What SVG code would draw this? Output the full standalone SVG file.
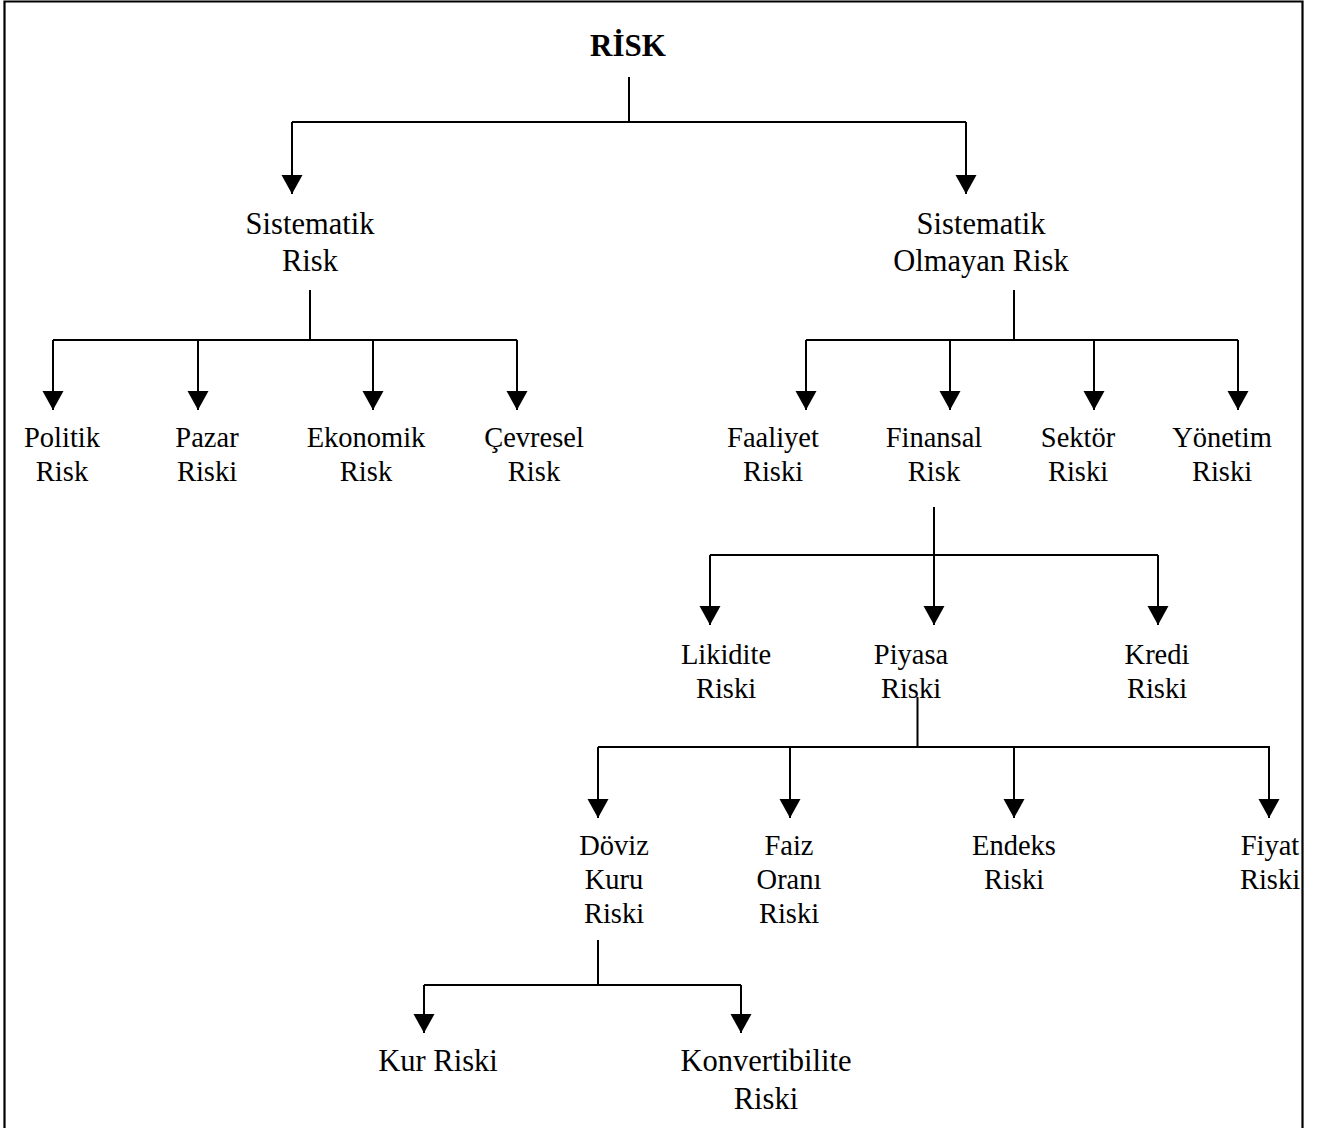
<svg xmlns="http://www.w3.org/2000/svg" width="1322" height="1128" viewBox="0 0 1322 1128">
  <style>
    text { font-family: "Liberation Serif", "Times New Roman", serif; fill: #000; text-anchor: middle; }
    .root { font-size: 31px; font-weight: bold; }
    .big { font-size: 30.5px; }
    .lbl { font-size: 28.5px; }
    .wire { fill: none; stroke: #000; stroke-width: 2; }
    .drop { fill: none; stroke: #000; stroke-width: 2; marker-end: url(#head); }
    .frame { fill: none; stroke: #000; stroke-width: 2.2; }
  </style>
  <defs>
    <!-- filled triangular arrowhead, tip at the end of the line -->
    <marker id="head" markerUnits="userSpaceOnUse" markerWidth="20" markerHeight="22" viewBox="0 0 20 22" refX="19" refY="11" orient="auto">
      <path d="M0,0.5 L19,11 L0,21.5 Z" fill="#000"/>
    </marker>
  </defs>
  <rect width="1322" height="1128" fill="#fff"/>
  <!-- outer frame: top, left and right sides -->
  <path class="frame" d="M4.5,1128 V1.5 H1302.5 V1128"/>

  <g id="connectors">
    <!-- RİSK -->
    <path class="wire" d="M629,77 V122 M292,122 H966"/>
    <path class="drop" d="M292,122 V194"/>
    <path class="drop" d="M966,122 V194"/>
    <!-- Sistematik Risk -->
    <path class="wire" d="M310,290 V340 M53,340 H517"/>
    <path class="drop" d="M53,340 V410"/>
    <path class="drop" d="M198,340 V410"/>
    <path class="drop" d="M373,340 V410"/>
    <path class="drop" d="M517,340 V410"/>
    <!-- Sistematik Olmayan Risk -->
    <path class="wire" d="M1014,290 V340 M806,340 H1238"/>
    <path class="drop" d="M806,340 V410"/>
    <path class="drop" d="M950,340 V410"/>
    <path class="drop" d="M1094,340 V410"/>
    <path class="drop" d="M1238,340 V410"/>
    <!-- Finansal Risk -->
    <path class="wire" d="M710,555 H1158"/>
    <path class="drop" d="M934,507 V625"/>
    <path class="drop" d="M710,555 V625"/>
    <path class="drop" d="M1158,555 V625"/>
    <!-- Piyasa Riski -->
    <path class="wire" d="M917.5,697 V747 M598,747 H1270"/>
    <path class="drop" d="M598,747 V818"/>
    <path class="drop" d="M790,747 V818"/>
    <path class="drop" d="M1014,747 V818"/>
    <path class="drop" d="M1269,747 V818"/>
    <!-- Döviz Kuru Riski -->
    <path class="wire" d="M598,940 V985 M424,985 H741"/>
    <path class="drop" d="M424,985 V1033"/>
    <path class="drop" d="M741,985 V1033"/>
  </g>

  <g id="risk"><text class="root" x="628" y="56">RİSK</text></g>

  <g id="sistematik-risk"><text class="big" x="310" y="234">Sistematik</text><text class="big" x="310" y="271">Risk</text></g>
  <g id="sistematik-olmayan-risk"><text class="big" x="981" y="234">Sistematik</text><text class="big" x="981" y="271">Olmayan Risk</text></g>

  <g id="politik-risk"><text class="lbl" x="62" y="447">Politik</text><text class="lbl" x="62" y="481">Risk</text></g>
  <g id="pazar-riski"><text class="lbl" x="207" y="447">Pazar</text><text class="lbl" x="207" y="481">Riski</text></g>
  <g id="ekonomik-risk"><text class="lbl" x="366" y="447">Ekonomik</text><text class="lbl" x="366" y="481">Risk</text></g>
  <g id="cevresel-risk"><text class="lbl" x="534" y="447">Çevresel</text><text class="lbl" x="534" y="481">Risk</text></g>

  <g id="faaliyet-riski"><text class="lbl" x="773" y="447">Faaliyet</text><text class="lbl" x="773" y="481">Riski</text></g>
  <g id="finansal-risk"><text class="lbl" x="934" y="447">Finansal</text><text class="lbl" x="934" y="481">Risk</text></g>
  <g id="sektor-riski"><text class="lbl" x="1078" y="447">Sektör</text><text class="lbl" x="1078" y="481">Riski</text></g>
  <g id="yonetim-riski"><text class="lbl" x="1222" y="447">Yönetim</text><text class="lbl" x="1222" y="481">Riski</text></g>

  <g id="likidite-riski"><text class="lbl" x="726" y="664">Likidite</text><text class="lbl" x="726" y="698">Riski</text></g>
  <g id="piyasa-riski"><text class="lbl" x="911" y="664">Piyasa</text><text class="lbl" x="911" y="698">Riski</text></g>
  <g id="kredi-riski"><text class="lbl" x="1157" y="664">Kredi</text><text class="lbl" x="1157" y="698">Riski</text></g>

  <g id="doviz-kuru-riski"><text class="lbl" x="614" y="855">Döviz</text><text class="lbl" x="614" y="889">Kuru</text><text class="lbl" x="614" y="923">Riski</text></g>
  <g id="faiz-orani-riski"><text class="lbl" x="789" y="855">Faiz</text><text class="lbl" x="789" y="889">Oranı</text><text class="lbl" x="789" y="923">Riski</text></g>
  <g id="endeks-riski"><text class="lbl" x="1014" y="855">Endeks</text><text class="lbl" x="1014" y="889">Riski</text></g>
  <g id="fiyat-riski"><text class="lbl" x="1270" y="855">Fiyat</text><text class="lbl" x="1270" y="889">Riski</text></g>

  <g id="kur-riski"><text class="big" x="438" y="1071">Kur Riski</text></g>
  <g id="konvertibilite-riski"><text class="big" x="766" y="1071">Konvertibilite</text><text class="big" x="766" y="1109">Riski</text></g>
</svg>
